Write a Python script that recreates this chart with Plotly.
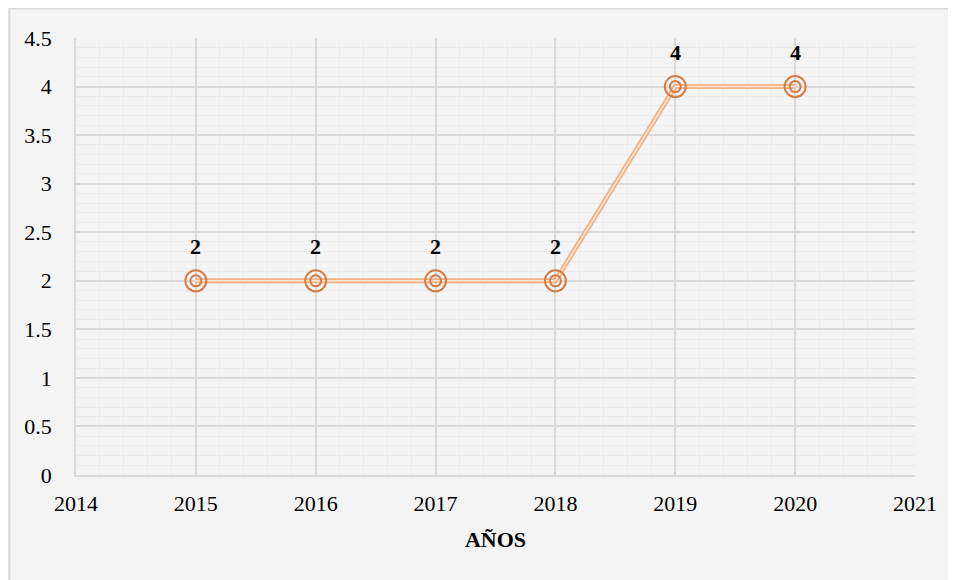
import plotly.graph_objects as go

years = [2015, 2016, 2017, 2018, 2019, 2020]
values = [2, 2, 2, 2, 4, 4]
x_ticks = [2014, 2015, 2016, 2017, 2018, 2019, 2020, 2021]
y_ticks = [0, 0.5, 1, 1.5, 2, 2.5, 3, 3.5, 4, 4.5]

colors = {
    'background': '#f4f4f4',
    'text': '#000000',
    'line': '#f4b183',
    'marker': '#d47c44',
    'grid': '#d9d9d9',
    'minor': '#ebebeb',
}
serif = "'Liberation Serif', 'Times New Roman', Times, serif"

fig = go.Figure()

# double line: thick orange with thin pale stroke on top
fig.add_trace(go.Scatter(
    x=years, y=values, mode='lines',
    line=dict(color=colors['line'], width=5),
    hoverinfo='skip', showlegend=False))
fig.add_trace(go.Scatter(
    x=years, y=values, mode='lines',
    line=dict(color='#fbe6d8', width=1.5),
    hoverinfo='skip', showlegend=False))

# double ring markers
fig.add_trace(go.Scatter(
    x=years, y=values, mode='markers',
    marker=dict(symbol='circle', size=21, color='rgba(0,0,0,0)',
                line=dict(color=colors['marker'], width=2)),
    showlegend=False))
fig.add_trace(go.Scatter(
    x=years, y=values, mode='markers',
    marker=dict(symbol='circle', size=11, color='rgba(0,0,0,0)',
                line=dict(color=colors['marker'], width=2)),
    showlegend=False))

for xv, yv in zip(years, values):
    fig.add_annotation(
        x=xv, y=yv, text='<b>%g</b>' % yv, showarrow=False,
        yshift=34, font=dict(family=serif, size=22, color=colors['text']))

# chart border (left and top visible, rest runs off the page)
fig.add_shape(
    type='rect', xref='paper', yref='paper',
    x0=-0.0795, x1=1.3, y0=-0.5, y1=1.0675,
    line=dict(color='#d9d9d9', width=2), fillcolor='rgba(0,0,0,0)',
    layer='below')

fig.update_layout(
    width=948, height=572,
    margin=dict(l=68, r=41, t=30, b=105, autoexpand=False),
    plot_bgcolor=colors['background'],
    paper_bgcolor=colors['background'],
    font=dict(family=serif, size=22, color=colors['text']),
)
fig.update_xaxes(
    range=[2014, 2021], tickvals=x_ticks, ticktext=[str(t) for t in x_ticks],
    tickfont=dict(family=serif, size=22),
    showgrid=True, gridcolor=colors['grid'], gridwidth=1.5,
    showline=True, linecolor=colors['grid'], linewidth=1.5,
    zeroline=False, ticks='', ticklabelstandoff=8, automargin=False,
    minor=dict(dtick=0.2, showgrid=True, gridcolor=colors['minor'], gridwidth=1),
    title=dict(text='<b>AÑOS</b>', font=dict(family=serif, size=22), standoff=16))
fig.update_yaxes(
    range=[0, 4.5], tickvals=y_ticks, ticktext=['%g' % t for t in y_ticks],
    tickfont=dict(family=serif, size=22),
    showgrid=True, gridcolor=colors['grid'], gridwidth=1.5,
    showline=True, linecolor=colors['grid'], linewidth=1.5,
    zeroline=False, ticks='', ticklabelstandoff=18, automargin=False,
    minor=dict(dtick=0.1, showgrid=True, gridcolor=colors['minor'], gridwidth=1))

fig.write_html("out.html")
